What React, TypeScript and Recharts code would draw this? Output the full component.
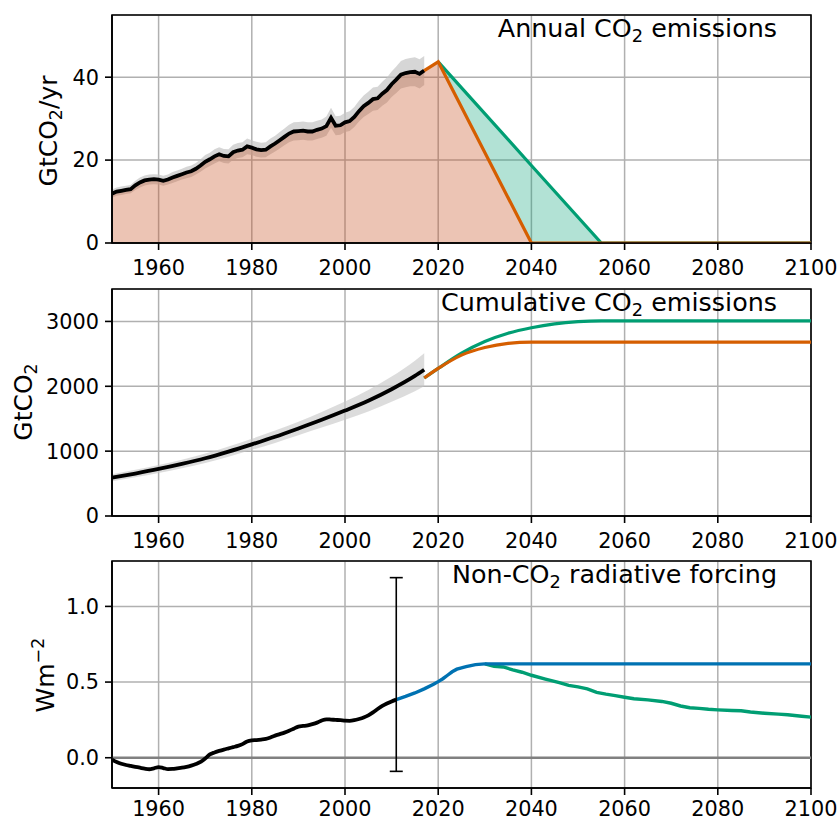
import React from 'react';
import {
  ComposedChart,
  Line,
  Area,
  XAxis,
  YAxis,
  CartesianGrid,
  ReferenceLine,
  ReferenceArea,
  Scatter,
  ErrorBar,
} from 'recharts';

const FONT = 'DejaVu Sans';
const ORANGE = '#d55e00';
const GREEN = '#009e73';
const BLUE = '#0072b2';

const xTicks = [1960, 1980, 2000, 2020, 2040, 2060, 2080, 2100];

// ---------- Panel 1: annual CO2 emissions (GtCO2/yr) ----------
const histStartYear = 1950;
const histAnnual = [
  11.9, 12.4, 12.6, 12.8, 13.0, 13.9, 14.6, 15.1, 15.3, 15.4,
  15.3, 15.0, 15.3, 15.8, 16.2, 16.6, 17.0, 17.3, 17.9, 18.7,
  19.6, 20.2, 20.9, 21.4, 21.0, 20.9, 21.9, 22.3, 22.5, 23.3,
  23.0, 22.6, 22.4, 22.5, 23.3, 24.0, 24.8, 25.6, 26.4, 26.9,
  27.0, 27.1, 26.9, 26.9, 27.3, 27.6, 28.2, 30.2, 28.3, 28.4,
  29.1, 29.4, 30.4, 31.8, 33.0, 33.8, 34.7, 34.9, 36.0, 36.9,
  38.3, 39.4, 40.6, 41.0, 41.2, 41.3, 40.8, 41.6,
];
const histAnnualUnc = [
  1.0, 1.0, 1.0, 1.0, 1.0, 1.1, 1.2, 1.2, 1.2, 1.2,
  1.2, 1.2, 1.2, 1.3, 1.3, 1.3, 1.4, 1.4, 1.4, 1.5,
  1.6, 1.6, 1.7, 1.7, 1.7, 1.7, 1.8, 1.8, 1.8, 1.9,
  1.8, 1.8, 1.8, 1.8, 1.9, 1.9, 2.0, 2.0, 2.1, 2.2,
  2.2, 2.2, 2.2, 2.2, 2.2, 2.2, 2.3, 2.4, 2.3, 2.3,
  2.3, 2.4, 2.4, 2.5, 2.6, 2.7, 2.8, 2.8, 2.9, 3.0,
  3.1, 3.2, 3.3, 3.4, 3.4, 3.5, 3.5, 3.5,
];
const histYears = histAnnual.map((_, i) => histStartYear + i);

const annualOrangeYears = [2017, 2020, 2040, 2055, 2100];
const annualOrangeVals = [41.6, 43.7, 0, 0, 0];
const annualGreenYears = [2020, 2040, 2055, 2100];
const annualGreenVals = [43.7, 18.7, 0, 0];

// ---------- Panel 2: cumulative CO2 emissions (GtCO2) ----------
const cumYears = [1950, 1955, 1960, 1965, 1970, 1975, 1980, 1985, 1990, 1995, 2000, 2005, 2010, 2015, 2017];
const cumVals = [590, 655, 725, 803, 890, 993, 1105, 1222, 1350, 1483, 1625, 1777, 1955, 2160, 2255];
const cumUnc = [55, 58, 62, 66, 72, 78, 85, 95, 105, 120, 140, 165, 195, 235, 255];

const cumOrangeYears = [2017, 2020, 2025, 2030, 2035, 2040, 2045, 2055, 2100];
const cumOrangeVals = [2127, 2275, 2480, 2598, 2663, 2682, 2682, 2682, 2682];
const cumGreenYears = [2017, 2020, 2025, 2030, 2035, 2040, 2045, 2050, 2055, 2100];
const cumGreenVals = [2127, 2275, 2510, 2690, 2818, 2903, 2963, 2996, 3008, 3008];

// ---------- Panel 3: non-CO2 radiative forcing (W m-2) ----------
const rfHistVals = [
  -0.012, -0.028, -0.040, -0.048, -0.054, -0.060, -0.066, -0.072, -0.076, -0.070,
  -0.062, -0.068, -0.075, -0.074, -0.070, -0.066, -0.060, -0.052, -0.042, -0.028,
  -0.005, 0.022, 0.035, 0.045, 0.054, 0.062, 0.070, 0.078, 0.090, 0.108,
  0.115, 0.117, 0.120, 0.124, 0.134, 0.146, 0.156, 0.166, 0.178, 0.192,
  0.206, 0.210, 0.214, 0.222, 0.232, 0.246, 0.254, 0.252, 0.250, 0.248,
  0.245, 0.244, 0.248, 0.256, 0.266, 0.280, 0.300, 0.322, 0.342, 0.358,
  0.372, 0.384,
];
const rfHistYears = rfHistVals.map((_, i) => 1950 + i);

const rfBlueYears = [2011, 2013, 2015, 2017, 2019, 2020, 2021, 2022, 2023, 2024, 2025, 2026, 2027, 2028, 2030, 2100];
const rfBlueVals = [0.384, 0.405, 0.428, 0.455, 0.485, 0.503, 0.522, 0.545, 0.568, 0.585, 0.594, 0.602, 0.609, 0.615, 0.620, 0.620];

const rfGreenYears = [
  2030, 2032, 2034, 2036, 2038, 2040, 2043, 2046, 2048, 2050, 2052, 2054, 2056, 2058, 2060,
  2062, 2065, 2068, 2070, 2072, 2074, 2076, 2078, 2080, 2083, 2085, 2087, 2090, 2093, 2095, 2098, 2100,
];
const rfGreenVals = [
  0.620, 0.604, 0.600, 0.580, 0.565, 0.545, 0.520, 0.496, 0.478, 0.468, 0.455, 0.432, 0.420, 0.410, 0.400,
  0.390, 0.382, 0.372, 0.360, 0.342, 0.330, 0.326, 0.320, 0.316, 0.312, 0.310, 0.302, 0.294, 0.288, 0.284, 0.274, 0.268,
];

const rfErrYear = 2011;
const rfErrCenter = 0.384;
const rfErrLow = -0.09;
const rfErrHigh = 1.19;

// ---------- table building ----------
type Row = { year: number; [k: string]: any };
function buildTable(series: { key: string; years: number[]; vals: any[] }[]): Row[] {
  const map = new Map<number, Row>();
  series.forEach(({ key, years, vals }) => {
    years.forEach((y, i) => {
      if (!map.has(y)) map.set(y, { year: y });
      (map.get(y) as Row)[key] = vals[i];
    });
  });
  return Array.from(map.values()).sort((a, b) => a.year - b.year);
}

const orangeAt = (y: number) => annualOrangeVals[annualOrangeYears.indexOf(y)];
const gFillYears = annualGreenYears.filter((y) => annualOrangeYears.includes(y) && y <= 2055);

const rows1 = buildTable([
  { key: 'band', years: histYears, vals: histAnnual.map((v, i) => [v - histAnnualUnc[i], v + histAnnualUnc[i]]) },
  { key: 'hist', years: histYears, vals: histAnnual },
  {
    key: 'oFill',
    years: [...histYears.filter((y) => y < 2017), ...annualOrangeYears.filter((y) => y <= 2040)],
    vals: [...histAnnual.filter((_, i) => histYears[i] < 2017), ...annualOrangeVals.filter((_, i) => annualOrangeYears[i] <= 2040)],
  },
  {
    key: 'gFill',
    years: gFillYears,
    vals: gFillYears.map((y) => [orangeAt(y), annualGreenVals[annualGreenYears.indexOf(y)]]),
  },
  { key: 'oLine', years: annualOrangeYears, vals: annualOrangeVals },
  { key: 'gLine', years: annualGreenYears, vals: annualGreenVals },
]);

const rows2 = buildTable([
  { key: 'band', years: cumYears, vals: cumVals.map((v, i) => [v - cumUnc[i], v + cumUnc[i]]) },
  { key: 'hist', years: cumYears, vals: cumVals },
  { key: 'oLine', years: cumOrangeYears, vals: cumOrangeVals },
  { key: 'gLine', years: cumGreenYears, vals: cumGreenVals },
]);

const rows3 = buildTable([
  { key: 'hist', years: rfHistYears, vals: rfHistVals },
  { key: 'blue', years: rfBlueYears, vals: rfBlueVals },
  { key: 'green', years: rfGreenYears, vals: rfGreenVals },
]);

const errData = [
  { year: rfErrYear, rf: rfErrCenter, err: [rfErrCenter - rfErrLow, rfErrHigh - rfErrCenter] },
];

// ---------- styles ----------
const tickStyle = { fill: '#000', fontSize: 20.8, fontFamily: FONT };
const tickLineStyle = { stroke: '#000', strokeWidth: 1.6 };
const axisLineStyle = { stroke: '#000', strokeWidth: 1.6 };

function Title({ x, y, pre, sub, post }: { x: number; y: number; pre: string; sub: string; post: string }) {
  return (
    <text x={x} y={y} textAnchor="end" fontFamily={FONT} fontSize={25.4} fill="#000">
      {pre}
      <tspan fontSize={17.8} dy={5}>{sub}</tspan>
      <tspan dy={-5}>{post}</tspan>
    </text>
  );
}

function YLabel({ bx, cy, pre, script, post, sup }: { bx: number; cy: number; pre: string; script: string; post: string; sup?: boolean }) {
  const d = sup ? -10 : 5;
  return (
    <text transform={`translate(${bx},${cy}) rotate(-90)`} x={0} y={0} textAnchor="middle" fontFamily={FONT} fontSize={25} fill="#000">
      {pre}
      <tspan fontSize={17.5} dy={d}>{script}</tspan>
      {post ? <tspan dy={-d}>{post}</tspan> : null}
    </text>
  );
}

function xAxis(margin: number) {
  return (
    <XAxis
      dataKey="year"
      type="number"
      domain={[1950, 2100]}
      ticks={xTicks}
      interval={0}
      height={30}
      tickSize={7}
      tickMargin={margin}
      tick={tickStyle}
      tickLine={tickLineStyle}
      axisLine={axisLineStyle}
      allowDataOverflow
    />
  );
}

function Panel1() {
  return (
    <ComposedChart width={840} height={290} data={rows1} margin={{ top: 15, right: 29, bottom: 17, left: 0 }}>
      <CartesianGrid stroke="#b0b0b0" strokeWidth={1.5} />
      {xAxis(10)}
      <YAxis
        type="number"
        domain={[0, 55]}
        ticks={[0, 20, 40]}
        interval={0}
        width={112}
        tickSize={7}
        tickMargin={6}
        tick={tickStyle}
        tickLine={tickLineStyle}
        axisLine={axisLineStyle}
        allowDataOverflow
        label={() => (
          <g>
            <YLabel bx={57} cy={131} pre="GtCO" script="2" post="/yr" />
            <Title x={777} y={37} pre="Annual CO" sub="2" post=" emissions" />
          </g>
        )}
      />
      <Area dataKey="band" type="linear" fill="#c4c4c4" fillOpacity={0.7} stroke="none" isAnimationActive={false} />
      <Area dataKey="oFill" type="linear" fill="#c75224" fillOpacity={0.34} stroke="none" isAnimationActive={false} />
      <Area dataKey="gFill" type="linear" fill={GREEN} fillOpacity={0.3} stroke="none" isAnimationActive={false} />
      <Line dataKey="hist" type="linear" stroke="#000" strokeWidth={3.8} dot={false} isAnimationActive={false} />
      <Line dataKey="gLine" type="linear" stroke={GREEN} strokeWidth={3.2} dot={false} connectNulls isAnimationActive={false} />
      <Line dataKey="oLine" type="linear" stroke={ORANGE} strokeWidth={3.2} dot={false} connectNulls isAnimationActive={false} />
      <ReferenceArea x1={1950} x2={2100} y1={0} y2={55} fill="none" fillOpacity={0} stroke="#000" strokeWidth={1.6} />
    </ComposedChart>
  );
}

function Panel2() {
  return (
    <ComposedChart width={840} height={280} data={rows2} margin={{ top: 9, right: 29, bottom: 14, left: 0 }}>
      <CartesianGrid stroke="#b0b0b0" strokeWidth={1.5} />
      {xAxis(10)}
      <YAxis
        type="number"
        domain={[0, 3500]}
        ticks={[0, 1000, 2000, 3000]}
        interval={0}
        width={112}
        tickSize={7}
        tickMargin={6}
        tick={tickStyle}
        tickLine={tickLineStyle}
        axisLine={axisLineStyle}
        allowDataOverflow
        label={() => (
          <g>
            <YLabel bx={32} cy={122} pre="GtCO" script="2" post="" />
            <Title x={777} y={31} pre="Cumulative CO" sub="2" post=" emissions" />
          </g>
        )}
      />
      <Area dataKey="band" type="monotone" fill="#c4c4c4" fillOpacity={0.6} stroke="none" isAnimationActive={false} />
      <Line dataKey="hist" type="monotone" stroke="#000" strokeWidth={3.8} dot={false} isAnimationActive={false} />
      <Line dataKey="gLine" type="monotone" stroke={GREEN} strokeWidth={3.2} dot={false} connectNulls isAnimationActive={false} />
      <Line dataKey="oLine" type="monotone" stroke={ORANGE} strokeWidth={3.2} dot={false} connectNulls isAnimationActive={false} />
      <ReferenceArea x1={1950} x2={2100} y1={0} y2={3500} fill="none" fillOpacity={0} stroke="#000" strokeWidth={1.6} />
    </ComposedChart>
  );
}

function Panel3() {
  return (
    <ComposedChart width={840} height={271} data={rows3} margin={{ top: 11, right: 29, bottom: 3, left: 0 }}>
      <CartesianGrid stroke="#b0b0b0" strokeWidth={1.5} />
      {xAxis(6)}
      <YAxis
        type="number"
        domain={[-0.2, 1.3]}
        ticks={[0, 0.5, 1.0]}
        interval={0}
        width={112}
        tickSize={7}
        tickMargin={6}
        tick={tickStyle}
        tickLine={tickLineStyle}
        axisLine={axisLineStyle}
        tickFormatter={(v: number) => v.toFixed(1)}
        allowDataOverflow
        label={() => (
          <g>
            <YLabel bx={54} cy={125} pre="Wm" script="−2" post="" sup />
            <Title x={777} y={33} pre="Non-CO" sub="2" post=" radiative forcing" />
          </g>
        )}
      />
      <ReferenceLine y={0} stroke="#808080" strokeWidth={2.5} />
      <Line dataKey="green" type="linear" stroke={GREEN} strokeWidth={3.4} dot={false} connectNulls isAnimationActive={false} />
      <Line dataKey="blue" type="linear" stroke={BLUE} strokeWidth={3.4} dot={false} connectNulls isAnimationActive={false} />
      <Line dataKey="hist" type="monotone" stroke="#000" strokeWidth={3.8} dot={false} connectNulls isAnimationActive={false} />
      <Scatter data={errData} dataKey="rf" shape={() => <g />} isAnimationActive={false}>
        <ErrorBar dataKey="err" direction="y" width={6.5} stroke="#000" strokeWidth={1.6} isAnimationActive={false} />
      </Scatter>
      <ReferenceArea x1={1950} x2={2100} y1={-0.2} y2={1.3} fill="none" fillOpacity={0} stroke="#000" strokeWidth={1.6} />
    </ComposedChart>
  );
}

export default function App() {
  return (
    <div style={{ position: 'absolute', left: 0, top: 0, width: 840, height: 821, background: '#fff' }}>
      <div style={{ position: 'absolute', left: 0, top: 550 }}>
        <Panel3 />
      </div>
      <div style={{ position: 'absolute', left: 0, top: 280 }}>
        <Panel2 />
      </div>
      <div style={{ position: 'absolute', left: 0, top: 0 }}>
        <Panel1 />
      </div>
    </div>
  );
}
